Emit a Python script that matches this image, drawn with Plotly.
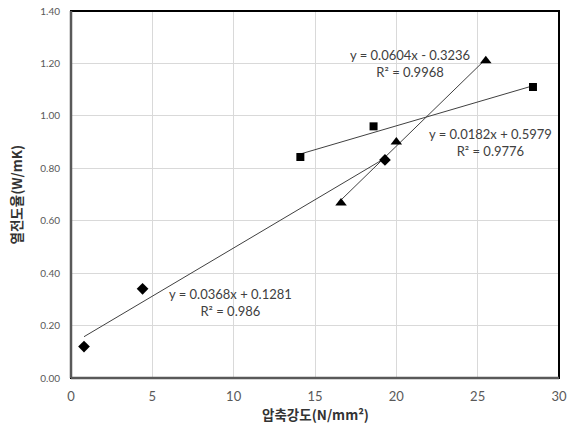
import plotly.graph_objects as go

# Data
diamond_x = [0.8, 4.4, 19.3]
diamond_y = [0.12, 0.34, 0.832]
square_x = [14.1, 18.6, 28.4]
square_y = [0.843, 0.96, 1.11]
triangle_x = [16.6, 20.0, 25.5]
triangle_y = [0.668, 0.90, 1.21]

# Trendline coefficients (slope, intercept) and labels
diamond_fit = (0.0368, 0.1281)
square_fit = (0.0182, 0.5979)
triangle_fit = (0.0604, -0.3236)
diamond_label = ["y = 0.0368x + 0.1281", "R² = 0.986"]
square_label = ["y = 0.0182x + 0.5979", "R² = 0.9776"]
triangle_label = ["y = 0.0604x - 0.3236", "R² = 0.9968"]

x_ticks = [0, 5, 10, 15, 20, 25, 30]
y_ticks = [0.0, 0.2, 0.4, 0.6, 0.8, 1.0, 1.2, 1.4]
x_title = "압축강도(N/mm²)"
y_title = "열전도율(W/mK)"

fig = go.Figure()

line_col = "#404040"
for xs, fit in [(diamond_x, diamond_fit), (square_x, square_fit), (triangle_x, triangle_fit)]:
    x0, x1 = min(xs), max(xs)
    fig.add_trace(go.Scatter(x=[x0, x1], y=[fit[0] * x0 + fit[1], fit[0] * x1 + fit[1]],
                             mode="lines", line=dict(color=line_col, width=1),
                             showlegend=False, hoverinfo="skip"))

fig.add_trace(go.Scatter(x=diamond_x, y=diamond_y, mode="markers",
                         marker=dict(symbol="diamond", size=9, color="black"), showlegend=False))
fig.add_trace(go.Scatter(x=square_x, y=square_y, mode="markers",
                         marker=dict(symbol="square", size=8, color="black"), showlegend=False))
fig.add_trace(go.Scatter(x=triangle_x, y=triangle_y, mode="markers",
                         marker=dict(symbol="triangle-up", size=10, color="black"), showlegend=False))

ann_font = dict(family="Lato, Open Sans, sans-serif", size=13, color="#404040")
for (lines, ax, ay) in [(triangle_label, 20.84, 1.20), (square_label, 25.8, 0.90), (diamond_label, 9.83, 0.288)]:
    fig.add_annotation(x=ax, y=ay, xref="x", yref="y", text="<br>".join(lines), showarrow=False,
                       font=ann_font, align="center")

title_font = dict(family="Noto Sans CJK KR, sans-serif", size=13.5, color="#333333")
fig.add_annotation(x=0, y=0.5, xref="paper", yref="paper", xshift=-56, xanchor="center", yanchor="middle",
                   text="<b>" + y_title + "</b>", textangle=-90, showarrow=False, font=title_font)
fig.add_annotation(x=0.5, y=0, xref="paper", yref="paper", yshift=-36, xanchor="center", yanchor="middle",
                   text="<b>" + x_title + "</b>", showarrow=False, font=title_font)

fig.add_shape(type="rect", xref="paper", yref="paper", x0=0, y0=0, x1=1, y1=1,
              line=dict(color="black", width=2), layer="above")
fig.add_shape(type="line", xref="paper", yref="paper", x0=0, y0=0, x1=0, y1=1,
              line=dict(color="#595959", width=2.5), layer="above")
fig.add_shape(type="line", xref="paper", yref="paper", x0=0, y0=0, x1=1, y1=0,
              line=dict(color="#595959", width=2.5), layer="above")

fig.update_layout(
    width=574, height=430,
    margin=dict(l=71, r=15, t=11, b=52),
    paper_bgcolor="white", plot_bgcolor="white",
    xaxis=dict(range=[0, 30], tickvals=x_ticks, ticktext=[str(v) for v in x_ticks],
               showgrid=True, gridcolor="#d9d9d9", gridwidth=1, zeroline=False,
               tickfont=dict(family="Lato, Open Sans, sans-serif", size=13, color="#595959"),
               ticks="outside", ticklen=6, tickcolor="rgba(0,0,0,0)", automargin=False,
               ticklabeloverflow="allow"),
    yaxis=dict(range=[0, 1.4], tickvals=y_ticks, ticktext=[f"{v:.2f}" for v in y_ticks],
               showgrid=True, gridcolor="#d9d9d9", gridwidth=1, zeroline=False,
               tickfont=dict(family="Lato, Open Sans, sans-serif", size=10, color="#595959"),
               ticks="outside", ticklen=8, tickcolor="rgba(0,0,0,0)", automargin=False,
               ticklabeloverflow="allow"),
)

fig.write_html("out.html", config={"displayModeBar": False},
               post_script="document.body.style.margin='0';")
